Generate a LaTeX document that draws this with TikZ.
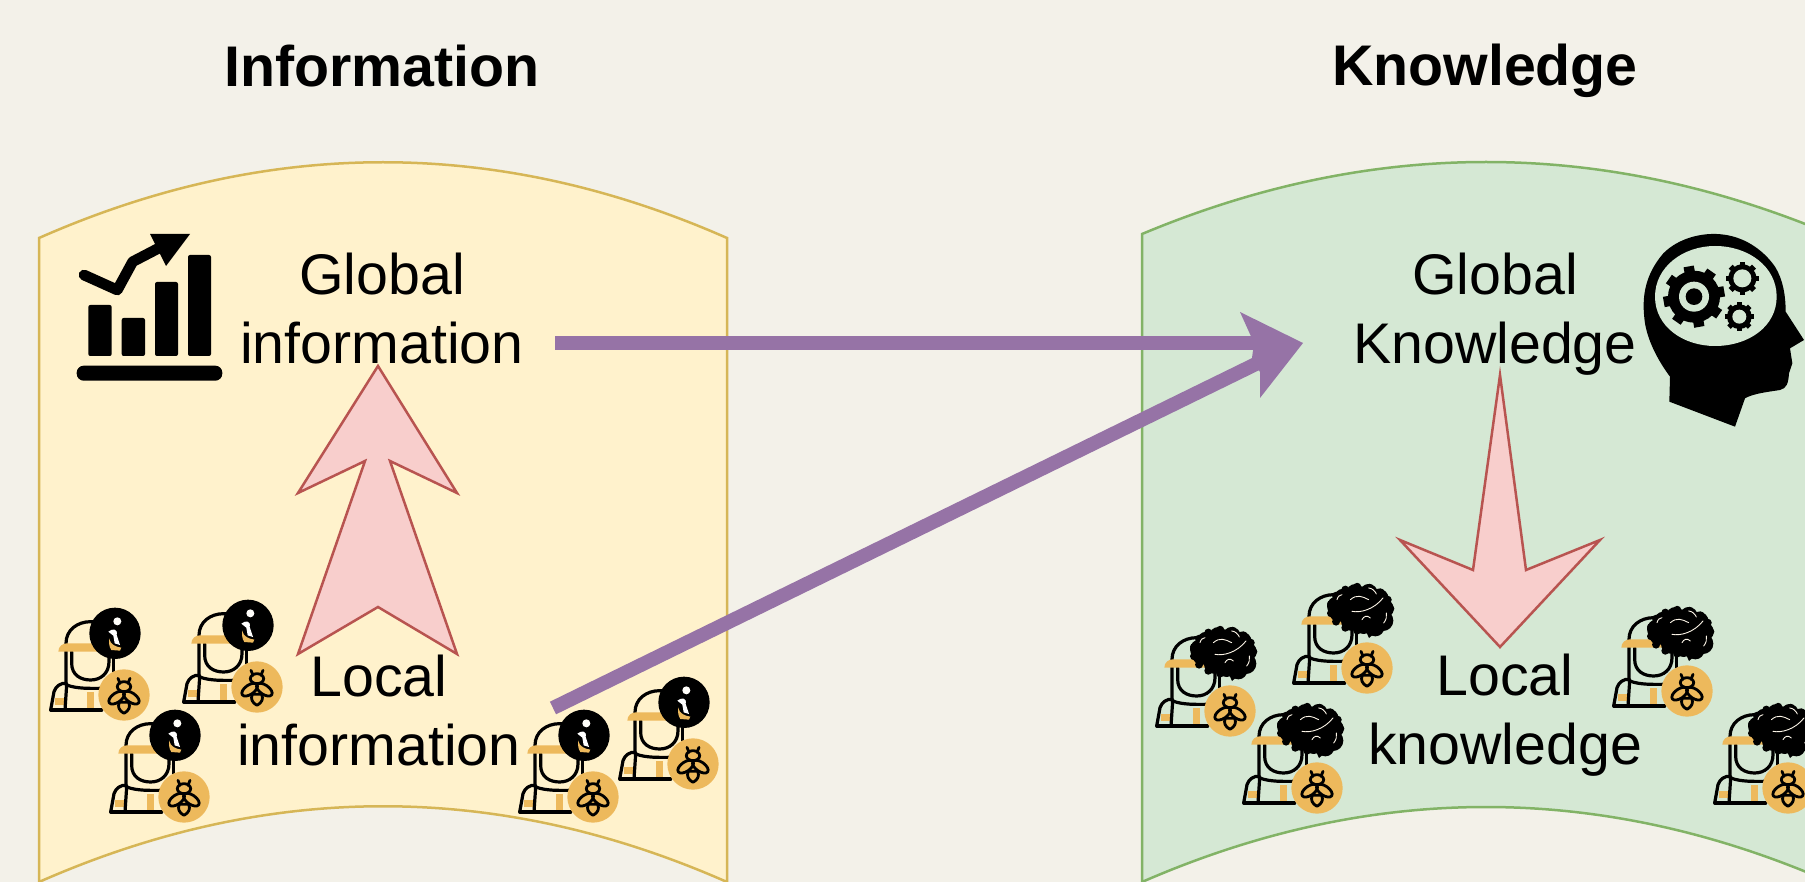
\documentclass[tikz,border=0pt]{standalone}
\usepackage{fontspec}
\setmainfont{Liberation Sans}
\usetikzlibrary{calc}
\definecolor{bgc}{HTML}{F3F1E9}
\definecolor{yelf}{HTML}{FFF2CC}
\definecolor{yeld}{HTML}{D6B656}
\definecolor{grnf}{HTML}{D5E8D4}
\definecolor{grnd}{HTML}{82B366}
\definecolor{pnkf}{HTML}{F8CECC}
\definecolor{pnkd}{HTML}{B85450}
\definecolor{purp}{HTML}{9673A6}
\definecolor{ora}{HTML}{EDB95C}
\tikzset{
  x=1pt,y=-1pt,
  doc/.style={line width=2.5pt,line join=miter},
  blockarrow/.style={draw=pnkd,fill=pnkf,line width=2.5pt,line join=miter},
  flow/.style={draw=purp,line width=14pt},
  label/.style={inner sep=0pt,align=center,font=\fontsize{57.3}{69}\selectfont},
  title/.style={inner sep=0pt,font=\fontsize{57.3}{69}\selectfont\bfseries},
  ink/.style={line width=3.2pt,draw=black,line cap=round,line join=round},
  beeink/.style={line width=2.8pt,draw=black,line cap=round,line join=round},
  pics/personbase/.style={code={
    \begin{scope}[scale=1/3]
      \fill[ora] (-112,-10) rectangle (-90,40);
      \fill[ora] (-207,8) rectangle (-177,30);
      \draw[ink] (-220,45) -- (-67,45);
      \draw[ink] (-220,45) -- (-210,-10) .. controls (-205,-25) and (-190,-38) .. (-172,-35);
      \draw[ink] (-172,-30) -- (-177,45);
      \draw[ink] (-172,-30) .. controls (-140,-18) and (-100,-20) .. (-67,-20);
      \draw[ink] (-174,-30) -- (-174,-155) .. controls (-174,-195) and (-140,-220) .. (-100,-220) -- (-40,-220);
      \draw[ink] (-32,-130) -- (-32,-70);
      \draw[ink] (-157,-130) -- (-157,-95) .. controls (-157,-60) and (-130,-45) .. (-100,-45) .. controls (-70,-45) and (-45,-65) .. (-45,-100) -- (-45,-130);
      \fill[ora] (-197,-130) .. controls (-197,-145) and (-185,-155) .. (-172,-155) -- (-60,-155) -- (-60,-130) -- cycle;
    \end{scope}}},
  pics/beebadge/.style={code={
    \begin{scope}[scale=1/3]
      \fill[ora] (0,0) circle (77);
      \draw[beeink] (-18,-50) -- (-12,-35) (18,-50) -- (12,-35);
      \draw[beeink] (0,-25) ellipse [x radius=20,y radius=15];
      \draw[beeink,rotate around={35:(-22,8)}] (-22,8) ellipse [x radius=27,y radius=14];
      \draw[beeink,rotate around={-35:(22,8)}] (22,8) ellipse [x radius=27,y radius=14];
      \draw[beeink] (0,55) .. controls (-15,47) and (-20,35) .. (-14,22) -- (14,22) .. controls (20,35) and (15,47) .. (0,55) -- cycle;
    \end{scope}}},
  pics/infobadge/.style={code={
    \begin{scope}[scale=1/3]
      \fill[black] (-27,-185) circle (77);
      \fill[white!90!yelf] (-20,-221) circle (12);
      \fill[white] (-47,-190) .. controls (-35,-200) and (-18,-200) .. (-22,-180) -- (-12,-150) -- (-28,-155) -- (-32,-178) -- cycle;
      \fill[ora] (-45,-170) .. controls (-40,-150) and (-25,-145) .. (-8,-142) -- (-12,-133) -- (-38,-135) .. controls (-45,-145) and (-45,-155) .. (-45,-170) -- cycle;
    \end{scope}}},
  pics/brainbadge/.style={code={
    \begin{scope}[scale=1/3]
      \fill[black] (-90,-185) circle (30) (-70,-208) circle (30) (-35,-225) circle (27)
        (5,-225) circle (27) (35,-208) circle (30) (50,-178) circle (30) (48,-142) circle (31)
        (25,-122) circle (27) (-10,-128) circle (26) (-50,-140) circle (28) (-85,-165) circle (27)
        (-15,-180) circle (60) (20,-170) circle (50);
      \foreach \a in {0,24,...,336}
        {\fill[black] ($(-20,-178)+(\a:90 and 66)$) circle (12);}
      \fill[black] (-10,-125) -- (35,-115) -- (6,-90) -- cycle;
      \draw[white!85!ora,line width=.9pt,line cap=round]
        (-50,-205) .. controls (-30,-222) and (-15,-215) .. (5,-205)
        (-45,-170) .. controls (-20,-165) and (20,-175) .. (48,-210)
        (-15,-145) .. controls (-10,-155) and (0,-160) .. (10,-150)
        (50,-135) .. controls (58,-145) and (60,-155) .. (58,-165)
        (-90,-205) .. controls (-88,-215) and (-80,-220) .. (-75,-220)
        (5,-240) .. controls (15,-240) and (25,-230) .. (28,-222);
    \end{scope}}},
  pics/infoperson/.style={code={\pic{personbase};\pic{infobadge};\pic{beebadge};}},
  pics/brainperson/.style={code={\pic{personbase};\pic{brainbadge};\pic{beebadge};}},
  pics/gear/.style n args={3}{code={
    \fill[black] (0,0) circle (#1);
    \foreach \a in {0,45,...,315}{\fill[black,rotate=\a+#3] (-#1*0.2,0) rectangle (#1*0.2,-#1*1.18);}
    \fill[grnf] (0,0) circle (#2);
  }},
}
\begin{document}
\begin{tikzpicture}
\clip (0,0) rectangle (1805,882);
\fill[bgc] (0,0) rectangle (1805,882);

% documents
\draw[doc,draw=yeld,fill=yelf] (39,238) .. controls (268,137) and (498,137) .. (727,238)
  -- (727,882) .. controls (498,781) and (268,781) .. (39,882) -- cycle;
\draw[doc,draw=grnd,fill=grnf] (1142,234) .. controls (1371,138) and (1601,138) .. (1830,234)
  -- (1830,882) .. controls (1601,782) and (1371,782) .. (1142,882) -- cycle;

% block arrows
\draw[blockarrow] (378,366) -- (457,493) -- (390,461) -- (457,654) -- (378,607) -- (298,654) -- (365,461) -- (298,493) -- cycle;
\draw[blockarrow] (1500,375) -- (1526,570) -- (1600,540) -- (1500,647) -- (1400,540) -- (1473,570) -- cycle;

% chart icon
\begin{scope}
  \foreach \xa/\ya/\xb in {88.3/305/111.7,121.7/318/145,155/282/178,188/255/211}
    {\fill[black,rounded corners=2pt] (\xa,\ya) rectangle (\xb,356);}
  \fill[black,rounded corners=7pt] (76.7,365.7) rectangle (222.3,380.7);
  \draw[black,line width=10.7pt,line cap=round,line join=round] (84,275) -- (117.3,290) -- (132.7,261.7) -- (166.7,244);
  \fill[black] (150,234) -- (190,234) -- (166,266) -- cycle;
\end{scope}

% head icon
\begin{scope}[shift={(1620,220)},scale=1/3]
  \fill[black] (148,545) -- (150,470) .. controls (120,430) and (85,370) .. (75,310)
    .. controls (65,240) and (70,170) .. (130,100) .. controls (175,55) and (240,40) .. (290,42)
    .. controls (370,45) and (430,90) .. (465,140) .. controls (490,180) and (497,230) .. (497,275)
    -- (552,360) -- (510,385) -- (517,430) -- (507,460) .. controls (505,490) and (500,505) .. (480,510)
    .. controls (450,515) and (400,520) .. (375,535) -- (345,620) -- cycle;
  \fill[grnf] (105,230) .. controls (105,140) and (190,78) .. (285,78)
    .. controls (385,78) and (470,140) .. (470,230)
    .. controls (470,320) and (385,378) .. (285,378)
    .. controls (190,378) and (105,320) .. (105,230) -- cycle;
  \pic at (222,230) {gear={26}{15}{10}};
  \fill[black] (222,230) circle (25);
  \pic at (367,175) {gear={14}{9}{0}};
  \pic at (358,290) {gear={12.4}{7}{0}};
\end{scope}

% people
\pic at (124,695) {infoperson};
\pic at (257,687) {infoperson};
\pic at (184,797) {infoperson};
\pic at (593,797) {infoperson};
\pic at (693,764) {infoperson};
\pic at (1230,711) {brainperson};
\pic at (1367,668) {brainperson};
\pic at (1317,788) {brainperson};
\pic at (1687,691) {brainperson};
\pic at (1788,788) {brainperson};

% flows
\coordinate (hstart) at (555,343);
\coordinate (dstart) at (553,708);
\coordinate (merge) at (1262,343);
\coordinate (merge2) at (1262,361);
\draw[flow] (hstart) -- (merge);
\draw[flow] (dstart) -- (merge2);
\fill[purp] (1303,343) -- (1240,312) -- (1254,343) -- (1252,358) -- (1260,372) -- (1260,398) -- cycle;

% labels
\node[title] (t1) at (382,66) {Information};
\node[title] (t2) at (1485,71) {Knowledge};
\node[label] (gi) at (382,308.5) {Global\\information};
\node[label] (gk) at (1495,314) {Global\\Knowledge};
\node[label] (li) at (379,710.5) {Local\\information};
\node[label] (lk) at (1505,715.5) {Local\\knowledge};
\end{tikzpicture}
\end{document}
